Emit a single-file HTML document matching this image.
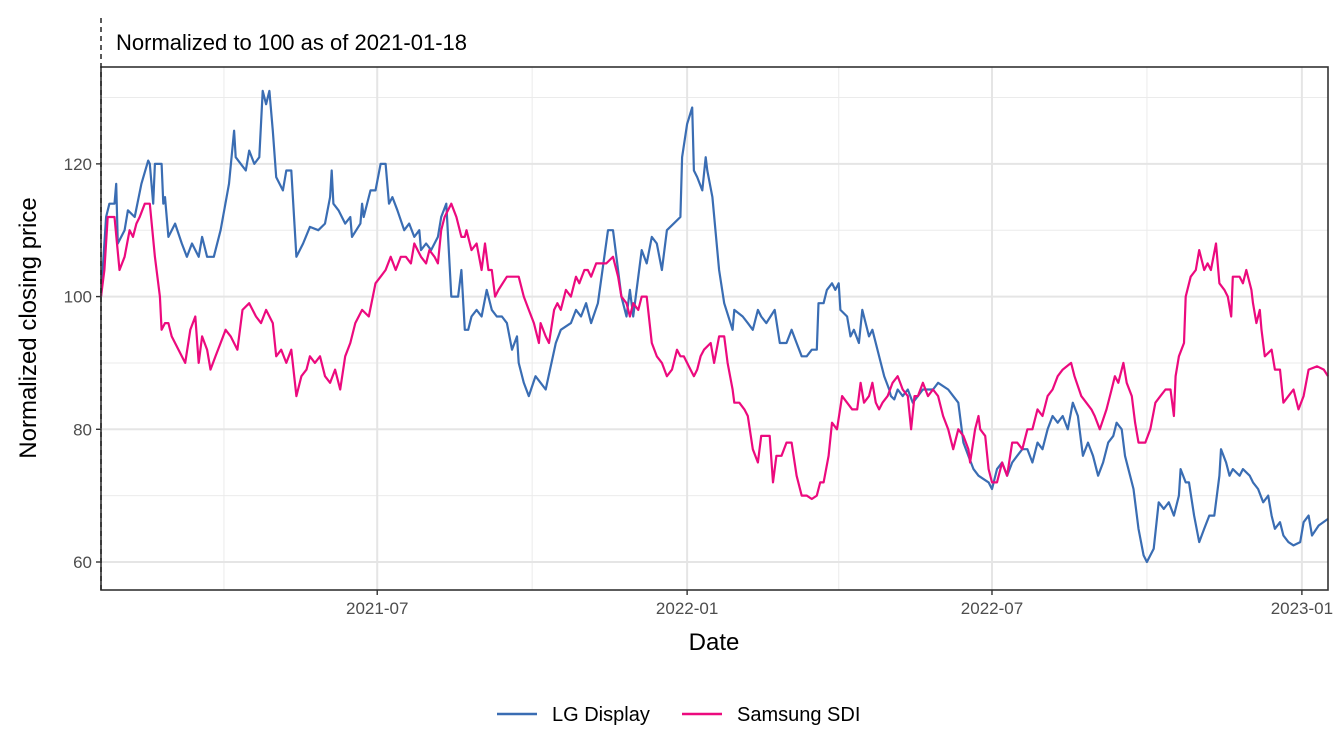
<!DOCTYPE html>
<html><head><meta charset="utf-8"><style>
html,body{margin:0;padding:0;background:#fff;}
svg{display:block;font-family:"Liberation Sans",sans-serif;}
</style></head><body>
<svg id="chart" width="1344" height="756" viewBox="0 0 1344 756" xmlns="http://www.w3.org/2000/svg">
<rect width="1344" height="756" fill="#fff"/>
<g id="grid"></g>
<g id="series"></g>
<rect x="101" y="67" width="1227" height="523" fill="none" stroke="#333" stroke-width="1.6"/>
<line x1="101" y1="18" x2="101" y2="590" stroke="#222" stroke-width="1.5" stroke-dasharray="5,4"/>
<text x="116" y="50" font-size="22" fill="#000">Normalized to 100 as of 2021-01-18</text>
<g id="axes"></g>
<text x="714" y="650" font-size="24" text-anchor="middle" fill="#000">Date</text>
<text transform="translate(36,328) rotate(-90)" font-size="24" text-anchor="middle" fill="#000">Normalized closing price</text>
<g>
<line x1="497" y1="714" x2="537" y2="714" stroke="#3a6db3" stroke-width="2.4"/>
<text x="552" y="721" font-size="20">LG Display</text>
<line x1="682" y1="714" x2="722" y2="714" stroke="#ec0a7e" stroke-width="2.4"/>
<text x="737" y="721" font-size="20">Samsung SDI</text>
</g>
</svg>
<script>
// days since 2021-01-18
const lgDays=[0,3,5,8,9,10,14,16,20,24,28,29,31,32,36,37,38,40,44,48,51,54,58,60,63,67,71,76,79,80,83,86,88,91,94,96,98,100,102,104,108,110,113,116,120,124,129,133,136,137,138,141,145,148,149,154,155,156,160,163,166,169,171,173,176,180,183,186,189,190,193,196,200,202,205,208,212,214,216,218,220,223,226,229,232,235,238,241,244,247,248,251,254,258,261,264,270,273,279,282,285,288,291,295,301,304,306,309,312,314,316,321,324,327,330,333,336,340,344,345,348,351,352,354,357,359,360,363,367,370,375,376,381,384,387,390,392,395,400,403,407,410,413,416,419,422,425,426,429,431,434,436,438,439,443,445,447,450,452,456,458,463,465,468,469,471,473,476,479,482,485,488,491,494,497,503,506,509,512,515,518,521,527,529,532,535,538,541,544,547,550,553,556,559,562,565,568,571,574,577,580,583,586,589,592,595,598,601,603,606,608,611,613,616,619,621,625,628,631,634,637,640,641,644,646,649,652,655,658,661,664,665,668,670,672,676,678,682,684,687,690,693,695,697,700,702,705,708,712,714,717,719,723,731];
const lgValues=[100,112,114,114,117,108,110,113,112,117,120.5,120,114,120,120,114,115,109,111,108,106,108,106,109,106,106,110,117,125,121,120,119,122,120,121,131,129,131,125,118,116,119,119,106,108,110.5,110,111,115,119,114,113,111,112,109,111,114,112,116,116,120,120,114,115,113,110,111,109,110,107,108,107,109,112,114,100,100,104,95,95,97,98,97,101,98,97,97,96,92,94,90,87,85,88,87,86,93,95,96,98,97,99,96,99,110,110,106,100,97,101,97,107,105,109,108,104,110,111,112,121,126,128.5,119,118,116,121,119,115,104,99,95,98,97,96,95,98,97,96,98,93,93,95,93,91,91,92,92,99,99,101,102,101,102,98,97,94,95,93,98,94,95,90,88,86,85,84.5,86,85,86,84,85,86,86,86,87,86,85,84,78,76,74,73,72,71,74,75,73,75,76,77,77,75,78,77,80,82,81,82,80,84,82,76,78,76,73,75,78,79,81,80,76,73,71,65,61,60,62,69,68,69,67,70,74,72,72,67,63,65,67,67,73,77,75,73,74,73,74,73,72,71,69,70,67,65,66,64,63,62.5,63,66,67,64,65.5,66.5];
const sdiDays=[0,2,4,8,11,14,17,19,21,23,26,29,32,35,36,38,40,42,46,50,53,56,58,60,63,65,68,71,74,77,81,84,88,92,95,98,102,104,107,110,113,116,119,122,124,127,130,133,136,139,142,145,148,151,155,159,163,166,169,172,175,178,181,184,186,190,193,195,198,200,202,204,208,211,214,216,217,220,223,226,228,230,232,234,236,241,245,248,251,254,257,260,261,264,266,269,271,273,276,279,282,284,287,289,291,294,297,300,304,307,309,312,314,316,319,321,324,327,330,333,336,339,342,344,346,350,352,354,356,358,362,364,367,370,372,375,376,379,382,384,387,390,392,397,399,401,404,407,410,413,416,419,422,425,427,429,432,434,437,440,443,446,449,451,453,456,458,460,462,464,467,470,473,476,479,481,483,485,488,491,494,497,500,503,506,509,512,515,516,519,521,522,525,527,529,532,535,538,541,544,547,550,553,556,559,562,565,568,571,576,578,582,585,588,590,593,597,600,602,604,607,609,612,614,616,620,623,626,629,632,635,637,638,640,643,644,647,650,652,655,657,659,662,664,667,669,671,672,676,678,680,683,684,686,688,689,691,695,697,700,702,705,708,711,714,717,722,726,731];
const sdiValues=[100,104,112,112,104,106,110,109,111,112,114,114,106,100,95,96,96,94,92,90,95,97,90,94,92,89,91,93,95,94,92,98,99,97,96,98,96,91,92,90,92,85,88,89,91,90,91,88,87,89,86,91,93,96,98,97,102,103,104,106,104,106,106,105,108,106,105,107,106,105,110,112,114,112,109,109,110,107,108,104,108,104,104,100,101,103,103,103,100,98,96,93,96,94,93,98,99,98,101,100,103,102,104,104,103,105,105,105,106,103,100,99,97,99,98,100,100,93,91,90,88,89,92,91,91,89,88,89,91,92,93,90,94,94,90,86,84,84,83,82,77,75,79,79,72,76,76,78,78,73,70,70,69.5,70,72,72,76,81,80,85,84,83,83,87,84,85,87,84,83,84,85,87,88,86,85,80,85,85,87,85,86,85,82,80,77,80,79,77,75,80,82,80,79,74,72,72,75,73,78,78,77,80,80,83,82,85,86,88,89,90,88,85,84,83,82,80,83,86,88,87,90,87,85,81,78,78,80,84,85,86,86,82,88,91,93,100,103,104,107,104,105,104,108,102,101,100,97,103,103,102,104,101,99,96,98,95,91,92,89,89,84,85,86,83,85,89,89.5,89,88];
const yTicks=[60,80,100,120];
const yMinor=[70,90,110,130];
const xTickLabels=["2021-07","2022-01","2022-07","2023-01"];
const xTickDays=[164,348,529,713];
const xMinorDays=[73,256,438,621];

const X0=101, X1=1328, Y0=67, Y1=590;
const dMin=0, dMax=728.5, vMin=55.78, vMax=134.6;
const xs=d=>X0+(d-dMin)/(dMax-dMin)*(X1-X0);
const ys=v=>Y1-(v-vMin)/(vMax-vMin)*(Y1-Y0);
const NS="http://www.w3.org/2000/svg";
const grid=document.getElementById('grid'), axes=document.getElementById('axes'), series=document.getElementById('series');
function mk(tag,attrs,parent){const e=document.createElementNS(NS,tag);for(const k in attrs)e.setAttribute(k,attrs[k]);parent.appendChild(e);return e;}
yMinor.forEach(v=>{const l=mk('line',{x1:X0,x2:X1,y1:ys(v),y2:ys(v),stroke:'#ebebeb','stroke-width':1},grid);

});
xMinorDays.forEach(d=>{const l=mk('line',{x1:xs(d),x2:xs(d),y1:Y0,y2:Y1,stroke:'#ebebeb','stroke-width':1},grid);

});
yTicks.forEach(v=>{const l=mk('line',{x1:X0,x2:X1,y1:ys(v),y2:ys(v),stroke:'#e5e5e5','stroke-width':2},grid);


const t=mk('line',{x1:X0-5,x2:X0,y1:ys(v),y2:ys(v),stroke:'#333','stroke-width':1.4},axes);


const tx=mk('text',{x:X0-9,y:ys(v)+6,'font-size':17,'text-anchor':'end',fill:'#4d4d4d'},axes);tx.textContent=v;

});
xTickDays.forEach((d,i)=>{const l=mk('line',{x1:xs(d),x2:xs(d),y1:Y0,y2:Y1,stroke:'#e5e5e5','stroke-width':2},grid);


const t=mk('line',{x1:xs(d),x2:xs(d),y1:Y1,y2:Y1+5,stroke:'#333','stroke-width':1.4},axes);


const tx=mk('text',{x:xs(d),y:Y1+24,'font-size':17,'text-anchor':'middle',fill:'#4d4d4d'},axes);tx.textContent=xTickLabels[i];

});
function drawLine(days,vals,color,name){
const pts=days.map((d,i)=>xs(Math.min(d,dMax)).toFixed(1)+','+ys(vals[i]).toFixed(1)).join(' ');
const p=mk('polyline',{points:pts,fill:'none',stroke:color,'stroke-width':2.2,'stroke-linejoin':'round'},series);

}
drawLine(lgDays,lgValues,'#3a6db3','lg-display-line');
drawLine(sdiDays,sdiValues,'#ec0a7e','samsung-sdi-line');
</script>
</body></html>
